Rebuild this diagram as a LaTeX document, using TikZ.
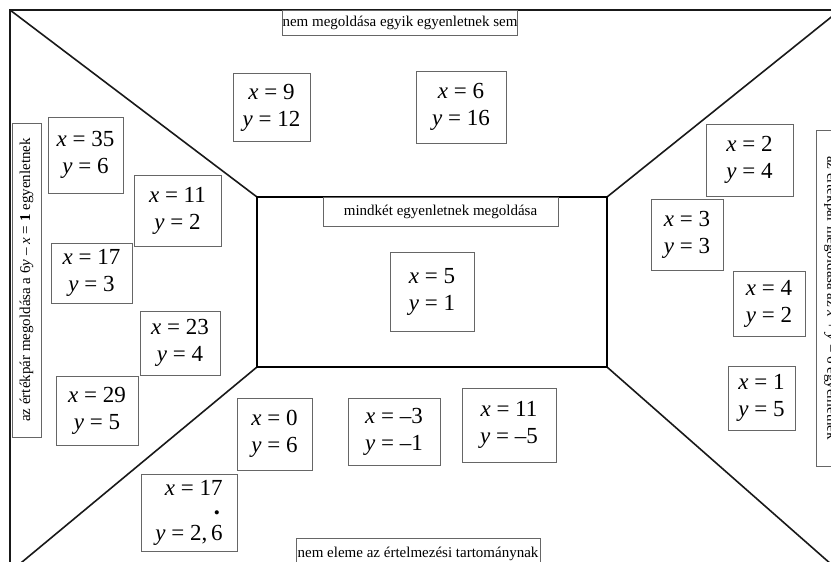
\documentclass[tikz,border=0pt]{standalone}
\usepackage{fontspec}
\usepackage{graphicx}
\setmainfont{Liberation Serif}
\newcommand{\xy}[2]{\textit{x} = #1\\\textit{y} = #2}
\newcommand{\rdotsix}{\ooalign{6\cr\hidewidth\raisebox{0.95em}{\scalebox{0.75}{\textbullet}}\hidewidth\cr}}
\begin{document}
\begin{tikzpicture}[x=1pt,y=-1pt,
  frame/.style={line width=1.6pt, black!90},
  innerrect/.style={line width=2.3pt, black},
  vbox/.style={draw=black!60, line width=0.8pt, fill=white, inner sep=0pt, align=center,
    font=\fontsize{23}{27}\selectfont},
  lbl/.style={draw=black!60, line width=0.8pt, fill=white, inner sep=0pt,
    font=\fontsize{15}{18}\selectfont}
]
\useasboundingbox (0,0) rectangle (831,562);
\begin{scope}
\clip (0,0) rectangle (831,562);
\fill[white] (0,0) rectangle (831,562);
\coordinate (A) at (10,10);
\coordinate (B) at (840,10);
\coordinate (C) at (840,572);
\coordinate (D) at (10,572);
\coordinate (P) at (257,197);
\coordinate (Q) at (607,197);
\coordinate (R) at (607,367);
\coordinate (S) at (257,367);
\draw[frame] (D) -- (A) -- (B) -- (C) -- cycle;
\draw[frame] (A) -- (P);
\draw[frame] (B) -- (Q);
\draw[frame] (C) -- (R);
\draw[frame] (D) -- (S);
\draw[innerrect] (P) rectangle (R);

% labels
\node[lbl, minimum width=230, minimum height=25] (top) at (400,22.5) {nem megoldása egyik egyenletnek sem};
\node[lbl, minimum width=235, minimum height=29] (mid) at (440.5,211.5) {mindkét egyenletnek megoldása};
\node[lbl, minimum width=244, minimum height=32] (bot) at (418,554) {nem eleme az értelmezési tartománynak};
\node[lbl, rotate=90, minimum width=314, minimum height=29] (left) at (26.5,280)
  {az értékpár megoldása a 6\textit{y} – \textit{x} = \textbf{1} egyenletnek};
\node[lbl, rotate=-90, minimum width=336, minimum height=30] (right) at (831,298)
  {az értékpár megoldása az \textit{x} + \textit{y} = 6 egyenletnek};

% value pairs
\node[vbox, minimum width=77, minimum height=68] (p9) at (271.5,107.5) {\xy{9}{12}};
\node[vbox, minimum width=90, minimum height=72] (p6) at (461,107) {\xy{6}{16}};
\node[vbox, minimum width=75, minimum height=76] (p35) at (85.5,155) {\xy{35}{6}};
\node[vbox, minimum width=87, minimum height=71] (p11) at (177.5,210.5) {\xy{11}{2}};
\node[vbox, minimum width=81, minimum height=60] (p17) at (91.5,273) {\xy{17}{3}};
\node[vbox, minimum width=80, minimum height=64] (p23) at (180,343) {\xy{23}{4}};
\node[vbox, minimum width=82, minimum height=69] (p29) at (97,410.5) {\xy{29}{5}};
\node[vbox, minimum width=84, minimum height=79] (p5) at (432,291.5) {\xy{5}{1}};
\node[vbox, minimum width=75, minimum height=72] (p0) at (274.5,434) {\xy{0}{6}};
\node[vbox, minimum width=92, minimum height=67] (pm3) at (394,431.5) {\xy{\textendash3}{\textendash1}};
\node[vbox, minimum width=94, minimum height=74] (p11b) at (509,425) {\xy{11}{\textendash5}};
\node[vbox, align=right, minimum width=96, minimum height=77] (p17b) at (189,512.5)
  {\textit{x} = 17\\[18pt]\textit{y} = 2,\,\rdotsix};
\node[vbox, minimum width=87, minimum height=72] (p2) at (749.5,160) {\xy{2}{4}};
\node[vbox, minimum width=72, minimum height=71] (p3) at (687,234.5) {\xy{3}{3}};
\node[vbox, minimum width=72, minimum height=65] (p4) at (769,303.5) {\xy{4}{2}};
\node[vbox, minimum width=67, minimum height=64] (p1) at (761.5,398) {\xy{1}{5}};
\end{scope}
\end{tikzpicture}
\end{document}
